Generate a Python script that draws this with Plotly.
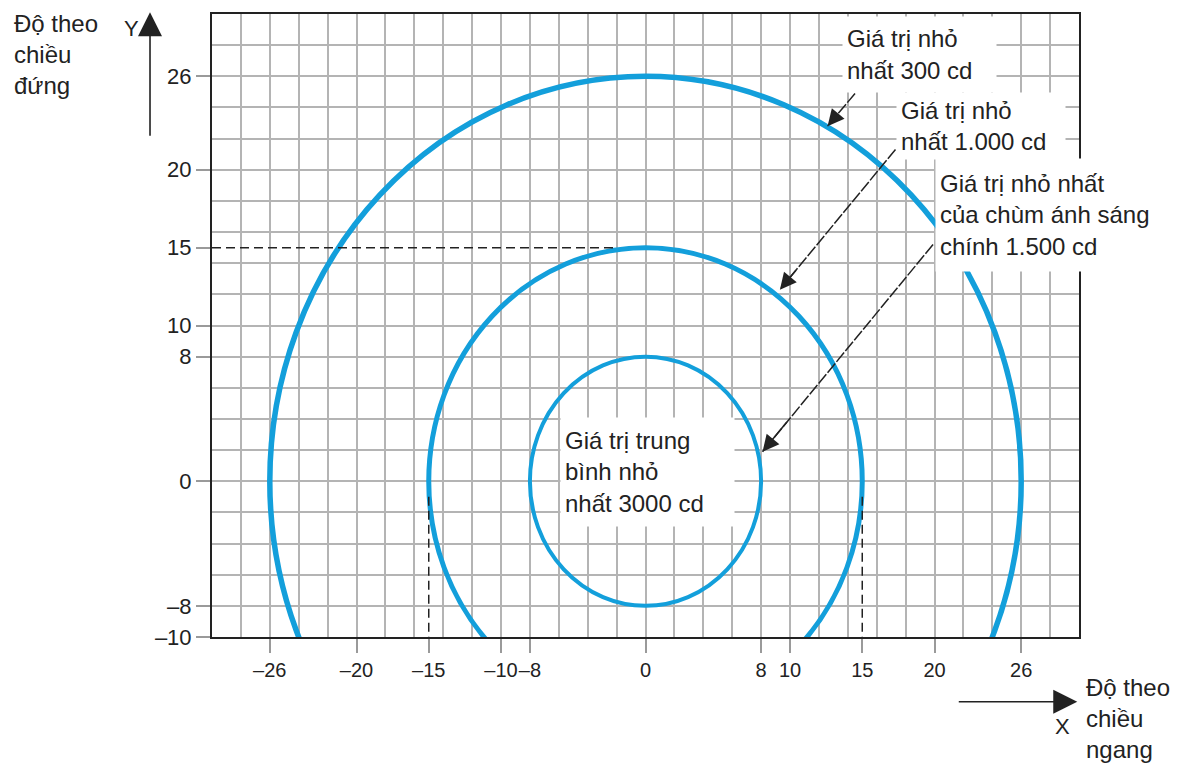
import plotly.graph_objects as go

# iso-candela rings (radius in degrees) and their stroke widths
ring_radius = [26, 15, 8]
ring_width = [5.5, 5, 4]
ring_color = "#139fdb"

x_range = [-30, 30]
y_range = [-10, 30]
grid_step = 2

x_tick_vals = [-26, -20, -15, -10, -8, 0, 8, 10, 15, 20, 26]
x_tick_text = ["–26", "–20", "–15", "–10", "–8", "0", "8", "10", "15", "20", "26"]
y_tick_vals = [-10, -8, 0, 8, 10, 15, 20, 26]
y_tick_text = ["–10", "–8", "0", "8", "10", "15", "20", "26"]

# dashed guide lines
guide_x0 = [-30, -15, 15]
guide_y0 = [15, -1, -1]
guide_x1 = [-2, -15, 15]
guide_y1 = [15, -10, -10]

# callout arrows: tail -> head (head sits on a ring)
arrow_tail_x = [14.5, 17.3, 19.9]
arrow_tail_y = [24.9, 21.3, 15.2]
arrow_head_x = [12.6, 9.3, 8.1]
arrow_head_y = [22.8, 12.3, 1.9]

# label boxes (top-left corner in data units, box size in px)
label_text = [
    "Giá trị nhỏ<br>nhất 300 cd",
    "Giá trị nhỏ<br>nhất 1.000 cd",
    "Giá trị nhỏ nhất<br>của chùm ánh sáng<br>chính 1.500 cd",
    "Giá trị trung<br>bình nhỏ<br>nhất 3000 cd",
]
label_x = [13.6, 17.35, 20.0, -5.9]
label_y = [29.9, 25.0, 20.75, 4.1]
label_w = [153, 168, 232, 173]
label_h = [75, 66, 112, 108]

TXT = "#222222"
LABEL_FONT = dict(family="Liberation Sans, Arial, sans-serif", size=24, color=TXT)
TICK_FONT = dict(family="Liberation Sans, Arial, sans-serif", size=22, color=TXT)
XTICK_FONT = dict(family="Liberation Sans, Arial, sans-serif", size=20, color=TXT)

fig = go.Figure()
# invisible traces so both axis pairs exist
fig.add_trace(go.Scatter(x=x_range, y=y_range, mode="markers", marker=dict(opacity=0),
                         hoverinfo="skip", showlegend=False))
fig.add_trace(go.Scatter(x=x_range, y=y_range, mode="markers", marker=dict(opacity=0),
                         hoverinfo="skip", showlegend=False, xaxis="x2", yaxis="y2"))

shapes = []
for r, w in zip(ring_radius, ring_width):
    shapes.append(dict(type="circle", xref="x", yref="y", x0=-r, x1=r, y0=-r, y1=r,
                       line=dict(color=ring_color, width=w)))
for x0, y0, x1, y1 in zip(guide_x0, guide_y0, guide_x1, guide_y1):
    shapes.append(dict(type="line", xref="x", yref="y", x0=x0, y0=y0, x1=x1, y1=y1,
                       line=dict(color=TXT, width=1.5, dash="9px,5px")))
for tx, ty, hx, hy in zip(arrow_tail_x, arrow_tail_y, arrow_head_x, arrow_head_y):
    shapes.append(dict(type="line", xref="x", yref="y", x0=tx, y0=ty, x1=hx, y1=hy,
                       line=dict(color=TXT, width=1.5, dash="12px,2px")))

annotations = []
for tx, ty, hx, hy in zip(arrow_tail_x, arrow_tail_y, arrow_head_x, arrow_head_y):
    annotations.append(dict(x=hx, y=hy, xref="x", yref="y", axref="x", ayref="y",
                            ax=hx + (tx - hx) * 0.15, ay=hy + (ty - hy) * 0.15,
                            text="", showarrow=True, arrowhead=2, arrowsize=2.2,
                            arrowwidth=1.5, arrowcolor=TXT))
for t, x, y, w, h in zip(label_text, label_x, label_y, label_w, label_h):
    annotations.append(dict(x=x, y=y, xref="x", yref="y", xanchor="left", yanchor="top",
                            text=t, showarrow=False, align="left", valign="middle",
                            width=w - 8, height=h - 8, borderpad=4, bgcolor="white",
                            font=LABEL_FONT))

# axis captions and arrows outside the plot
annotations += [
    dict(x=-0.231, y=1.01, xref="paper", yref="paper", xanchor="left", yanchor="top",
         text="Độ theo<br>chiều<br>đứng", showarrow=False, align="left", font=LABEL_FONT),
    dict(x=1.006, y=-0.056, xref="paper", yref="paper", xanchor="left", yanchor="top",
         text="Độ theo<br>chiều<br>ngang", showarrow=False, align="left", font=LABEL_FONT),
    dict(x=-0.0934, y=0.976, xref="paper", yref="paper", xanchor="center",
         yanchor="middle", text="Y", showarrow=False, font=TICK_FONT),
    dict(x=0.9815, y=-0.143, xref="paper", yref="paper", xanchor="center",
         yanchor="middle", text="X", showarrow=False, font=TICK_FONT),
    dict(x=-0.0715, y=1.003, xref="paper", yref="paper", ax=0, ay=125, text="",
         showarrow=True, arrowhead=2, arrowsize=3, arrowwidth=1.6, arrowcolor=TXT),
    dict(x=0.998, y=-0.104, xref="paper", yref="paper", ax=-120, ay=0, text="",
         showarrow=True, arrowhead=2, arrowsize=3, arrowwidth=1.6, arrowcolor=TXT),
]

axis_common = dict(showgrid=False, zeroline=False, showline=True, mirror=True,
                   linecolor=TXT, linewidth=2, ticks="outside", ticklen=14,
                   tickwidth=1.5, tickcolor="#9a9a9a", tickangle=0, fixedrange=True)
grid_common = dict(showgrid=True, gridcolor="#b4b4b4", gridwidth=1.5, zeroline=False,
                   showticklabels=False, ticks="", dtick=grid_step, tick0=0,
                   showline=False, fixedrange=True)

fig.update_layout(
    width=1182, height=766,
    margin=dict(l=212, r=103, t=14, b=129),
    paper_bgcolor="white", plot_bgcolor="white",
    showlegend=False,
    xaxis=dict(range=x_range, tickmode="array", tickvals=x_tick_vals, ticktext=x_tick_text,
               tickfont=XTICK_FONT, **axis_common),
    yaxis=dict(range=y_range, tickmode="array", tickvals=y_tick_vals, ticktext=y_tick_text,
               tickfont=TICK_FONT, **axis_common),
    xaxis2=dict(range=x_range, overlaying="x", **grid_common),
    yaxis2=dict(range=y_range, overlaying="y", **grid_common),
    shapes=shapes,
    annotations=annotations,
)

fig.write_html("out.html", config={"displayModeBar": False},
               post_script="document.body.style.margin='0';")
